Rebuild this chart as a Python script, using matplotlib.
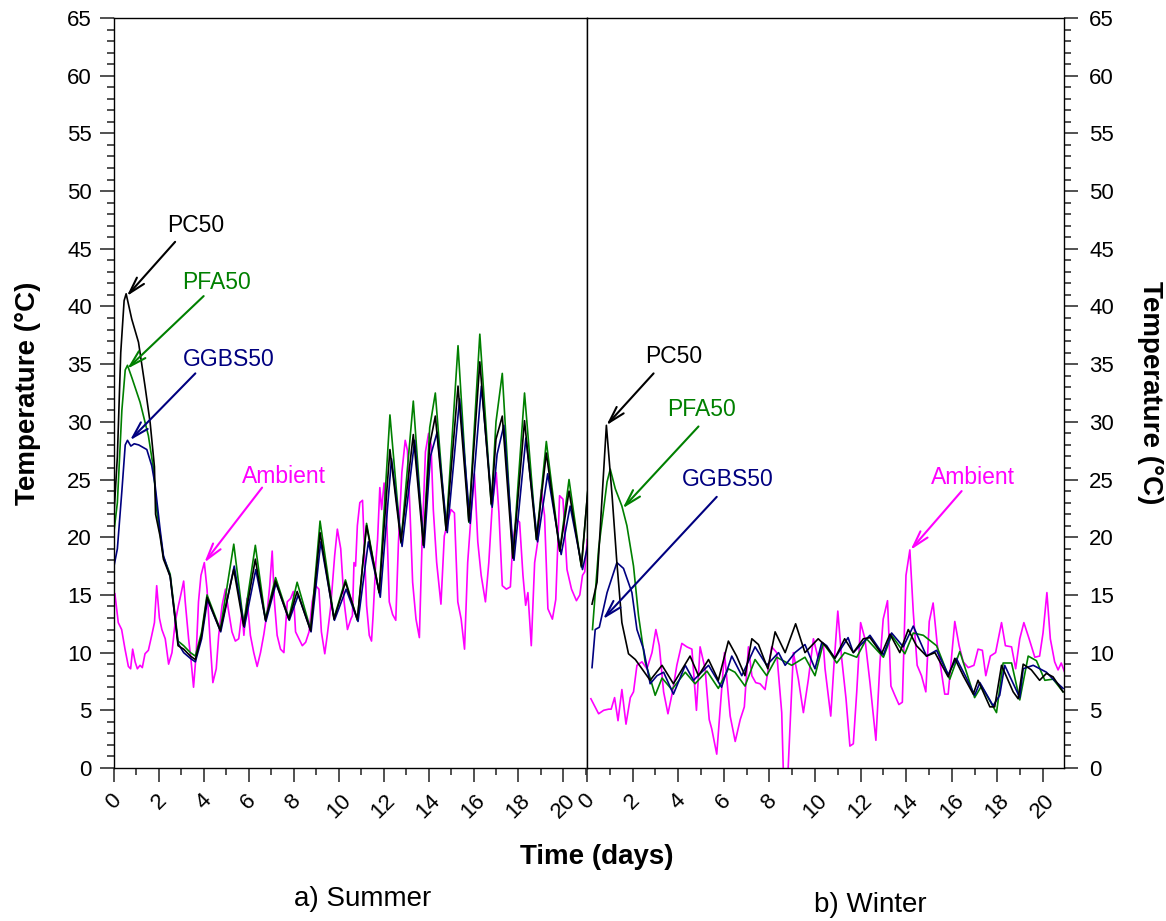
import matplotlib.pyplot as plt
from matplotlib.ticker import MultipleLocator

plt.rcParams['font.family'] = ['Liberation Sans', 'DejaVu Sans']

# ---------------- a) Summer ----------------
s_pc_t = [0, 0.15, 0.3, 0.45, 0.54, 0.79, 1.09, 1.38, 1.61, 1.8, 1.85, 2.05, 2.2, 2.5, 2.72, 2.85,
          3.1, 3.4, 3.62, 3.9, 4.14, 4.73, 5.33, 5.77, 6.29, 6.74, 7.19, 7.78, 8.15, 8.75, 9.17,
          9.79, 10.3, 10.83, 11.24, 11.8, 12.28, 12.77, 13.32, 13.77, 14.05, 14.3, 14.78, 15.31,
          15.79, 16.28, 16.79, 17.0, 17.28, 17.75, 18.27, 18.8, 19.24, 19.84, 20.25, 20.8, 21.14]
s_pc_v = [22, 27, 36, 40.5, 41.1, 38.9, 36.9, 33.1, 29.9, 26.1, 22.0, 20.1, 18.1, 16.6, 12.9, 10.6,
          10.3, 9.7, 9.4, 11.5, 14.8, 11.9, 17.2, 12.3, 18.1, 12.8, 16.2, 12.9, 15.3, 11.9, 20.4,
          12.9, 16.1, 12.9, 21.0, 15.2, 27.6, 19.6, 28.9, 19.3, 28.0, 30.5, 20.6, 33.1,
          21.4, 35.2, 22.9, 28.5, 30.5, 18.2, 30.1, 19.8, 27.3, 18.8, 24.0, 17.5, 25.3]

s_pfa_t = [0, 0.15, 0.35, 0.5, 0.6, 0.8, 1.16, 1.53, 1.76, 1.9, 2.05, 2.2, 2.5, 2.72, 2.85, 3.1,
           3.4, 3.62, 3.9, 4.14, 4.73, 5.33, 5.77, 6.29, 6.74, 7.19, 7.78, 8.15, 8.75, 9.17, 9.79,
           10.3, 10.83, 11.24, 11.8, 12.28, 12.77, 13.32, 13.77, 14.05, 14.3, 14.78, 15.31, 15.79,
           16.28, 16.79, 17.0, 17.28, 17.75, 18.27, 18.8, 19.24, 19.84, 20.25, 20.8, 21.14]
s_pfa_v = [20.5, 23, 31, 34.5, 34.9, 33.8, 31.7, 28.8, 25.9, 22.4, 20.3, 18.3, 16.8, 13.2, 11.0, 10.6,
           10.0, 9.7, 11.8, 15.0, 12.0, 19.4, 12.5, 19.3, 12.9, 16.5, 13.0, 16.1, 12.0, 21.4, 13.0,
           16.3, 12.8, 21.2, 15.2, 30.6, 19.5, 31.8, 19.3, 29.5, 32.5, 20.6, 36.6, 21.3,
           37.6, 22.8, 30.0, 34.2, 18.2, 32.5, 19.8, 28.3, 18.8, 25.0, 17.4, 25.3]

s_ggbs_t = [0, 0.15, 0.35, 0.5, 0.6, 0.75, 0.9, 1.1, 1.46, 1.68, 1.83, 2.05, 2.2, 2.5, 2.72, 2.85,
            3.1, 3.4, 3.62, 3.9, 4.16, 4.75, 5.35, 5.8, 6.31, 6.76, 7.21, 7.8, 8.2, 8.77, 9.2, 9.81,
            10.33, 10.86, 11.32, 11.85, 12.35, 12.82, 13.38, 13.8, 14.08, 14.38, 14.83, 15.38,
            15.85, 16.35, 16.83, 17.05, 17.35, 17.8, 18.33, 18.85, 19.3, 19.9, 20.3, 20.85, 21.14]
s_ggbs_v = [17.5, 19, 24, 28, 28.4, 27.9, 28.1, 28.0, 27.6, 26.2, 24.5, 20.7, 18.4, 16.6, 12.9, 10.8,
            10.0, 9.5, 9.2, 11.2, 14.6, 11.8, 17.5, 12.2, 17.2, 12.7, 16.0, 12.8, 15.0, 11.8, 19.6, 12.8,
            15.5, 12.7, 19.6, 14.8, 26.8, 19.2, 28.4, 19.1, 27.0, 29.1, 20.4, 32.0,
            21.2, 33.1, 22.6, 27.2, 29.7, 18.0, 28.6, 19.6, 25.5, 18.5, 22.7, 17.2, 19.8]

s_amb_t = [0.04, 0.19, 0.34, 0.49, 0.64, 0.74, 0.83, 0.94, 1.04, 1.16, 1.26, 1.38, 1.53, 1.68, 1.8,
           1.9, 2.02, 2.13, 2.28, 2.43, 2.58, 2.72, 2.87, 2.95, 3.1, 3.17, 3.32, 3.42, 3.54, 3.66,
           3.76, 3.87, 4.02, 4.14, 4.29, 4.4, 4.55, 4.66, 4.81, 4.96, 5.1, 5.25, 5.4, 5.55, 5.7,
           5.78, 5.92, 6.07, 6.22, 6.37, 6.52, 6.67, 6.82, 6.93, 7.04, 7.14, 7.26, 7.41, 7.56, 7.71,
           7.86, 7.98, 8.08, 8.23, 8.38, 8.53, 8.68, 8.82, 8.97, 9.12, 9.23, 9.38, 9.49, 9.64, 9.82,
           9.94, 10.09, 10.24, 10.39, 10.54, 10.61, 10.68, 10.75, 10.83, 10.94, 11.06, 11.13, 11.24,
           11.36, 11.46, 11.53, 11.65, 11.73, 11.83, 11.91, 12.02, 12.13, 12.25, 12.4, 12.54, 12.66,
           12.81, 12.96, 13.06, 13.17, 13.29, 13.44, 13.59, 13.71, 13.86, 14.0, 14.11, 14.21, 14.36,
           14.55, 14.7, 14.85, 15.0, 15.15, 15.3, 15.45, 15.6, 15.74, 15.89, 16.04, 16.19, 16.34,
           16.53, 16.68, 16.83, 17.01, 17.13, 17.28, 17.46, 17.64, 17.75, 17.9, 18.05, 18.2, 18.32,
           18.42, 18.57, 18.72, 18.87, 19.01, 19.16, 19.31, 19.51, 19.66, 19.83, 19.98, 20.16, 20.36,
           20.58, 20.73, 20.85, 20.95, 21.06]
s_amb_v = [15.1, 12.6, 12.0, 10.3, 8.8, 8.6, 10.3, 9.2, 8.6, 8.9, 8.7, 9.9, 10.2, 11.5, 12.6,
           15.8, 13.0, 12.0, 11.2, 9.0, 10.0, 12.6, 14.1, 14.8, 16.2, 14.4, 11.2, 9.5, 7.0, 10.0,
           14.4, 16.7, 17.8, 15.5, 10.6, 7.4, 8.6, 11.5, 14.1, 15.5, 13.6, 11.8, 11.0, 11.2, 13.6,
           11.5, 14.7, 11.5, 10.0, 8.8, 10.0, 11.6, 13.6, 15.8, 18.8, 14.4, 11.5, 10.3, 10.0, 14.4,
           14.7, 15.3, 11.8, 11.2, 10.6, 10.9, 11.8, 14.4, 15.8, 15.5, 11.8, 9.9, 11.5, 13.9, 18.4,
           20.7, 19.0, 14.4, 12.0, 12.9, 13.2, 17.8, 17.5, 21.0, 23.0, 23.2, 19.6, 14.1,
           11.5, 11.0, 13.2, 17.8, 19.8, 24.3, 22.4, 24.7, 21.9, 14.4, 13.3, 12.8, 19.6,
           25.6, 28.4, 27.5, 22.4, 16.1, 12.9, 11.3, 19.6, 27.4, 29.0, 28.0, 22.4, 17.8,
           14.2, 20.1, 21.3, 22.4, 22.1, 14.4, 12.9, 10.3, 17.8, 21.9, 25.5, 19.6, 16.7,
           14.4, 17.8, 22.7, 25.6, 22.1, 15.8, 15.5, 15.7, 19.6, 21.6, 21.3, 16.7, 14.1,
           15.2, 10.6, 17.8, 19.8, 24.1, 21.9, 13.8, 12.9, 14.6, 23.6, 23.3, 17.2, 15.5,
           14.5, 15.0, 16.7, 17.0, 19.8]

# ---------------- b) Winter ----------------
w_pc_t = [0.22, 0.44, 0.85, 1.1, 1.31, 1.53, 1.82, 2.12, 2.41, 2.77, 3.29, 3.79, 4.52, 4.89, 5.33,
          5.76, 6.2, 6.56, 6.93, 7.23, 7.52, 7.93, 8.25, 8.69, 9.15, 9.56, 10.14, 10.51, 10.87, 11.3,
          11.68, 12.12, 12.41, 12.92, 13.29, 13.72, 14.09, 14.45, 14.89, 15.26, 15.84, 16.13, 16.5,
          16.94, 17.15, 17.67, 17.88, 18.18, 18.69, 18.91, 19.13, 19.49, 19.85, 20.15, 20.44, 20.88]
w_pc_v = [14.2, 16.1, 29.7, 23.6, 17.8, 12.6, 9.9, 9.4, 8.6, 7.6, 8.9, 7.3, 9.7, 8.0, 9.4,
          7.6, 11.0, 9.7, 8.0, 11.2, 10.7, 8.6, 11.8, 10.0, 12.5, 10.0, 11.2, 10.5, 9.5, 11.2,
          10.0, 11.2, 11.3, 9.9, 11.6, 10.0, 12.0, 10.6, 9.7, 10.0, 7.9, 9.5, 8.0,
          6.4, 7.6, 5.3, 5.3, 8.9, 6.6, 6.0, 9.0, 8.5, 7.6, 8.2, 7.9, 6.6]

w_pfa_t = [0.24, 0.51, 0.88, 1.02, 1.24, 1.53, 1.75, 2.04, 2.26, 2.55, 2.77, 2.99, 3.29, 3.72, 4.31,
           4.74, 5.26, 5.76, 6.2, 6.49, 6.93, 7.37, 7.88, 8.32, 8.98, 9.56, 10.0, 10.36, 10.66, 10.95,
           11.3, 11.83, 12.26, 13.0, 13.36, 13.94, 14.31, 14.75, 15.33, 15.91, 16.35, 17.0, 17.3,
           17.96, 18.25, 18.62, 18.98, 19.35, 19.71, 20.08, 20.44, 20.88]
w_pfa_v = [12.0, 19.0, 24.8, 25.9, 24.2, 22.7, 21.0, 17.5, 13.2, 9.2, 7.8, 6.3, 7.8, 6.8, 8.3,
           7.3, 8.4, 6.9, 8.6, 8.3, 7.1, 9.4, 8.0, 9.6, 8.9, 9.6, 8.0, 10.8, 10.0, 9.1,
           10.0, 9.6, 11.2, 9.6, 11.5, 9.9, 11.7, 11.5, 10.6, 7.7, 10.1, 6.1, 7.1,
           4.8, 9.1, 9.1, 5.9, 9.7, 9.3, 7.6, 7.7, 6.6]

w_ggbs_t = [0.22, 0.36, 0.54, 0.88, 1.31, 1.6, 1.97, 2.19, 2.48, 2.77, 3.07, 3.36, 3.79, 4.31, 4.67,
            5.33, 5.9, 6.35, 6.79, 7.37, 7.88, 8.4, 8.69, 9.12, 9.56, 10.0, 10.3, 10.51, 10.87, 11.45,
            11.68, 12.41, 13.0, 13.36, 13.87, 14.31, 14.89, 15.33, 15.84, 16.2, 16.64, 17.0, 17.23,
            17.81, 18.1, 18.32, 18.98, 19.13, 19.57, 20.15, 20.44, 20.88]
w_ggbs_v = [8.7, 12.0, 12.2, 15.2, 17.8, 17.3, 15.2, 12.0, 10.3, 7.3, 8.0, 8.3, 6.4, 8.9, 7.6,
            8.9, 7.0, 9.7, 8.0, 10.5, 8.9, 10.0, 8.9, 10.0, 10.7, 8.6, 10.9, 10.6, 9.5, 11.3,
            10.0, 11.5, 9.8, 11.7, 10.5, 12.3, 9.7, 10.2, 8.1, 9.5, 7.8, 6.3, 7.4,
            5.4, 6.3, 8.9, 6.1, 8.6, 8.9, 8.3, 7.7, 6.9]

w_amb_t = [0.17, 0.51, 0.73, 0.95, 1.06, 1.21, 1.36, 1.53, 1.71, 1.9, 2.04, 2.19, 2.41, 2.63, 2.85,
           3.02, 3.17, 3.36, 3.55, 3.75, 3.94, 4.16, 4.38, 4.6, 4.8, 4.96, 5.18, 5.36, 5.47, 5.69,
           5.84, 6.03, 6.28, 6.5, 6.72, 6.9, 7.08, 7.23, 7.4, 7.59, 7.81, 8.1, 8.32, 8.54, 8.62,
           8.8, 9.05, 9.27, 9.49, 9.71, 9.93, 10.14, 10.36, 10.44, 10.69, 10.83, 11.0, 11.17, 11.36,
           11.53, 11.68, 11.83, 12.0, 12.19, 12.41, 12.67, 12.85, 12.99, 13.18, 13.33, 13.5, 13.68,
           13.83, 13.99, 14.16, 14.31, 14.48, 14.67, 14.86, 15.01, 15.18, 15.36, 15.5, 15.69, 15.84,
           16.13, 16.32, 16.5, 16.72, 16.97, 17.15, 17.34, 17.49, 17.69, 17.92, 18.18, 18.35, 18.62,
           18.8, 18.98, 19.16, 19.39, 19.64, 19.85, 20.0, 20.17, 20.32, 20.51, 20.66, 20.8, 20.95]
w_amb_v = [6.0, 4.7, 5.0, 5.1, 5.1, 6.1, 4.1, 6.8, 3.8, 6.1, 6.6, 8.9, 9.2, 8.6, 10.0,
           12.0, 10.6, 6.6, 4.7, 6.6, 8.9, 10.8, 10.5, 10.3, 5.0, 10.5, 8.6, 4.2, 3.4, 1.2,
           5.1, 10.0, 4.5, 2.3, 4.2, 5.3, 10.5, 8.0, 7.4, 7.3, 6.8, 10.5, 10.0, 4.8, -1.0,
           -1.0, 10.0, 7.7, 4.8, 7.7, 11.2, 9.5, 10.8, 8.6, 4.5, 8.9, 13.6, 9.5, 6.0,
           1.9, 2.1, 6.6, 12.6, 11.2, 7.4, 2.4, 9.2, 12.9, 14.5, 7.1, 6.3, 5.5,
           5.7, 16.7, 18.9, 13.5, 8.9, 8.0, 6.6, 12.7, 14.3, 10.7, 8.9, 6.4, 6.4,
           12.7, 10.6, 9.2, 8.7, 8.9, 10.3, 10.2, 8.0, 9.7, 10.0, 12.6, 10.6, 10.5,
           8.6, 11.2, 12.6, 11.2, 9.6, 9.7, 11.7, 15.2, 11.2, 9.2, 8.5, 9.1, 8.3]

c_pc, c_pfa, c_ggbs, c_amb = 'black', '#008000', '#000080', '#ff00ff'

W, H = 1166, 921
fig = plt.figure(figsize=(W / 100, H / 100), dpi=100)
ax1 = fig.add_axes([114 / W, 1 - 768 / H, (587 - 114) / W, (768 - 18) / H])
ax2 = fig.add_axes([587 / W, 1 - 768 / H, (1064 - 587) / W, (768 - 18) / H])


def setup(ax, xmax):
    ax.set_xlim(0, xmax)
    ax.set_ylim(0, 65)
    ax.xaxis.set_major_locator(MultipleLocator(2))
    ax.xaxis.set_minor_locator(MultipleLocator(1))
    ax.yaxis.set_major_locator(MultipleLocator(5))
    ax.yaxis.set_minor_locator(MultipleLocator(1))
    ax.tick_params(axis='both', which='major', length=10, width=1.2, color='#333333',
                   labelsize=16, pad=6)
    ax.tick_params(axis='both', which='minor', length=5, width=1.2, color='#333333')
    ax.tick_params(axis='x', which='major', labelrotation=45)
    for sp in ax.spines.values():
        sp.set_linewidth(1.0)


setup(ax1, 21.05)
setup(ax2, 20.92)
ax1.tick_params(axis='y', which='both', left=True, right=False)
ax2.yaxis.tick_right()
ax2.tick_params(axis='y', which='both', left=False, right=True, labelleft=False, labelright=True)
ax2.tick_params(axis='y', which='major', pad=8)

lw = 1.2
for ax, data in [(ax1, [(s_amb_t, s_amb_v, c_amb), (s_pfa_t, s_pfa_v, c_pfa),
                        (s_ggbs_t, s_ggbs_v, c_ggbs), (s_pc_t, s_pc_v, c_pc)]),
                 (ax2, [(w_amb_t, w_amb_v, c_amb), (w_pfa_t, w_pfa_v, c_pfa),
                        (w_ggbs_t, w_ggbs_v, c_ggbs), (w_pc_t, w_pc_v, c_pc)])]:
    for t, v, c in data:
        ax.plot(t, v, color=c, lw=lw)

arrow_style = '->,head_length=0.6,head_width=0.17'


def label(ax, text, color, txt_xy, start, tip):
    ax.annotate('', xy=tip, xytext=start,
                arrowprops=dict(arrowstyle=arrow_style, color=color, lw=1.5,
                                shrinkA=0, shrinkB=0, mutation_scale=20))
    ax.text(txt_xy[0], txt_xy[1], text, color=color, fontsize=16.5, ha='center', va='center')


label(ax1, 'PC50', c_pc, (3.62, 47.0), (2.72, 45.6), (0.57, 40.9))
label(ax1, 'PFA50', c_pfa, (4.58, 42.1), (3.99, 40.9), (0.59, 34.6))
label(ax1, 'GGBS50', c_ggbs, (5.1, 35.4), (3.62, 34.2), (0.71, 28.4))
label(ax1, 'Ambient', c_amb, (7.56, 25.3), (6.59, 24.3), (4.02, 17.8))

label(ax2, 'PC50', c_pc, (3.82, 35.7), (2.92, 34.2), (0.85, 29.7))
label(ax2, 'PFA50', c_pfa, (5.04, 31.1), (4.89, 29.6), (1.56, 22.5))
label(ax2, 'GGBS50', c_ggbs, (6.19, 25.0), (5.69, 23.5), (0.70, 12.9))
label(ax2, 'Ambient', c_amb, (16.93, 25.2), (16.43, 24.0), (14.19, 18.9))

fig.text(28 / W, 1 - 393 / H, 'Temperature (°C)', rotation=90, fontsize=20, fontweight='bold',
         ha='center', va='center')
fig.text(1150 / W, 1 - 393 / H, 'Temperature (°C)', rotation=270, fontsize=20, fontweight='bold',
         ha='center', va='center')
fig.text(597 / W, 1 - 857 / H, 'Time (days)', fontsize=20, fontweight='bold', ha='center', va='center')
fig.text(363 / W, 1 - 899 / H, 'a) Summer', fontsize=20, ha='center', va='center')
fig.text(870 / W, 1 - 905 / H, 'b) Winter', fontsize=20, ha='center', va='center')

fig.savefig('out.png', dpi=100)
